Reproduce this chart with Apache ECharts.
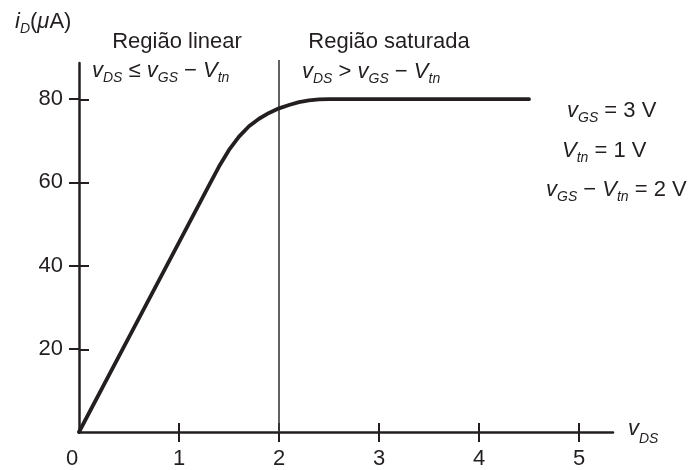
<!DOCTYPE html>
<html>
<head>
<meta charset="utf-8">
<script src="https://cdn.jsdelivr.net/npm/echarts@6/dist/echarts.min.js"></script>
<style>
  html, body { margin: 0; padding: 0; background: #fff; }
  #chart { width: 688px; height: 470px; }
</style>
</head>
<body>
<div id="chart"></div>
<script>
// Drain current vs drain-source voltage (vGS = 3 V, Vtn = 1 V)
const vDS = [0, 0.5, 1.0, 1.3, 1.4, 1.5, 1.6, 1.7, 1.8, 1.9, 2.0, 2.1, 2.2, 2.3, 2.4, 2.5, 2.6, 3.0, 3.5, 4.0, 4.5];
const iD  = [0, 22.8, 45.6, 59.3, 63.8, 67.8, 71.0, 73.5, 75.3, 76.7, 77.8, 78.6, 79.3, 79.7, 79.95, 80, 80, 80, 80, 80, 80];

// Boundary between the linear and saturation regions (vDS = vGS - Vtn)
const boundaryX = [2, 2];
const boundaryY = [0, 89.4];

// Tick labels
const xTickValues = [0, 1, 2, 3, 4, 5];
const yTickValues = [20, 40, 60, 80];

// Text pieces: [style, text]; 'i' italic, 's' italic subscript, 'n' upright
const yAxisTitle   = [['i', 'i'], ['s', 'D'], ['n', '('], ['i', 'μ'], ['n', 'A)']];
const xAxisTitle   = [['i', 'v'], ['sx', 'DS']];
const linearTitle  = 'Região linear';
const satTitle     = 'Região saturada';
const linearCond   = [['i', 'v'], ['s', 'DS'], ['n', ' ≤ '], ['i', 'v'], ['s', 'GS'], ['n', ' − '], ['i', 'V'], ['s', 'tn']];
const satCond      = [['i', 'v'], ['s', 'DS'], ['n', ' > '], ['i', 'v'], ['s', 'GS'], ['n', ' − '], ['i', 'V'], ['s', 'tn']];
const noteVgs      = [['i', 'v'], ['s', 'GS'], ['n', ' = 3 V']];
const noteVtn      = [['i', 'V'], ['s', 'tn'], ['n', ' = 1 V']];
const noteOverdrive = [['i', 'v'], ['s', 'GS'], ['n', ' − '], ['i', 'V'], ['s', 'tn'], ['n', ' = 2 V']];

const FONT = "'Liberation Sans', Arial, Helvetica, sans-serif";
const INK = '#231f20';

const rich = {
  n:  { fontSize: 22, fontFamily: FONT, fill: INK, verticalAlign: 'middle' },
  i:  { fontSize: 22, fontFamily: FONT, fontStyle: 'italic', fill: INK, verticalAlign: 'middle' },
  s:  { fontSize: 14, fontFamily: FONT, fontStyle: 'italic', fill: INK, verticalAlign: 'middle', padding: [14, 0, 0, 0] },
  sx: { fontSize: 14, fontFamily: FONT, fontStyle: 'italic', fill: INK, verticalAlign: 'middle', padding: [20, 0, 0, 0] }
};

function richString(parts) {
  return parts.map(([s, t]) => '{' + s + '|' + t + '}').join('');
}

function textItem(parts, x, y, align) {
  return {
    type: 'text',
    x: x,
    y: y,
    z: 100,
    style: {
      text: richString(parts),
      rich: rich,
      align: align || 'left',
      verticalAlign: 'middle',
      font: '22px ' + FONT,
      fill: INK
    }
  };
}

function plainText(str, x, y) {
  return {
    type: 'text',
    x: x,
    y: y,
    z: 100,
    style: {
      text: str,
      align: 'center',
      verticalAlign: 'middle',
      font: '22px ' + FONT,
      fill: INK
    }
  };
}

const gridBox = { left: 79, top: 63, right: 75, bottom: 37 };
const X_MAX = 5.34;
const Y_MAX = 88.7;

const axisTextStyle = { fontSize: 22, fontFamily: FONT, color: INK };

const chart = echarts.init(document.getElementById('chart'), null, { renderer: 'canvas' });

chart.setOption({
  animation: false,
  backgroundColor: '#fff',
  grid: [
    Object.assign({ containLabel: false }, gridBox),
    Object.assign({ containLabel: false }, gridBox)
  ],
  xAxis: [
    {
      type: 'value', gridIndex: 0, min: 0, max: X_MAX,
      axisLine: { show: true, onZero: false, lineStyle: { color: INK, width: 2.5 } },
      axisTick: { show: true, inside: false, length: 10, lineStyle: { color: INK, width: 2 },
                  customValues: xTickValues.filter(v => v > 0) },
      axisLabel: {
        show: true, margin: 16, customValues: xTickValues,
        fontSize: 22, fontFamily: FONT, color: INK,
        formatter: v => (v === 0 ? '{z|0}' : String(v)),
        rich: { z: { fontSize: 22, fontFamily: FONT, color: INK, padding: [0, 14, 0, 0] } }
      },
      splitLine: { show: false }
    },
    {
      type: 'value', gridIndex: 1, min: 0, max: X_MAX,
      axisLine: { show: false },
      axisTick: { show: true, inside: true, length: 10, lineStyle: { color: INK, width: 2 },
                  customValues: xTickValues.filter(v => v > 0) },
      axisLabel: { show: false },
      splitLine: { show: false }
    }
  ],
  yAxis: [
    {
      type: 'value', gridIndex: 0, min: 0, max: Y_MAX,
      axisLine: { show: true, onZero: false, lineStyle: { color: INK, width: 2.5 } },
      axisTick: { show: true, inside: false, length: 10, lineStyle: { color: INK, width: 2 },
                  customValues: yTickValues },
      axisLabel: Object.assign({ show: true, margin: 16, customValues: yTickValues }, axisTextStyle),
      splitLine: { show: false }
    },
    {
      type: 'value', gridIndex: 1, min: 0, max: Y_MAX,
      axisLine: { show: false },
      axisTick: { show: true, inside: true, length: 10, lineStyle: { color: INK, width: 2 },
                  customValues: yTickValues },
      axisLabel: { show: false },
      splitLine: { show: false }
    }
  ],
  series: [
    {
      name: 'boundary',
      type: 'line',
      xAxisIndex: 0, yAxisIndex: 0,
      data: boundaryX.map((x, k) => [x, boundaryY[k]]),
      symbol: 'none',
      clip: false,
      lineStyle: { color: '#3a3a3a', width: 1.6 },
      z: 2
    },
    {
      name: 'iD',
      type: 'line',
      xAxisIndex: 0, yAxisIndex: 0,
      data: vDS.map((x, k) => [x, iD[k]]),
      symbol: 'none',
      smooth: false,
      clip: false,
      lineStyle: { color: INK, width: 3.8, cap: 'round', join: 'round' },
      z: 3
    }
  ],
  graphic: [
    textItem(yAxisTitle, 15, 22),
    textItem(xAxisTitle, 628, 429),
    plainText(linearTitle, 177, 42),
    plainText(satTitle, 389, 42),
    textItem(linearCond, 92, 71),
    textItem(satCond, 302, 72),
    textItem(noteVgs, 567, 111),
    textItem(noteVtn, 562, 151),
    textItem(noteOverdrive, 546, 190)
  ]
});
</script>
</body>
</html>
